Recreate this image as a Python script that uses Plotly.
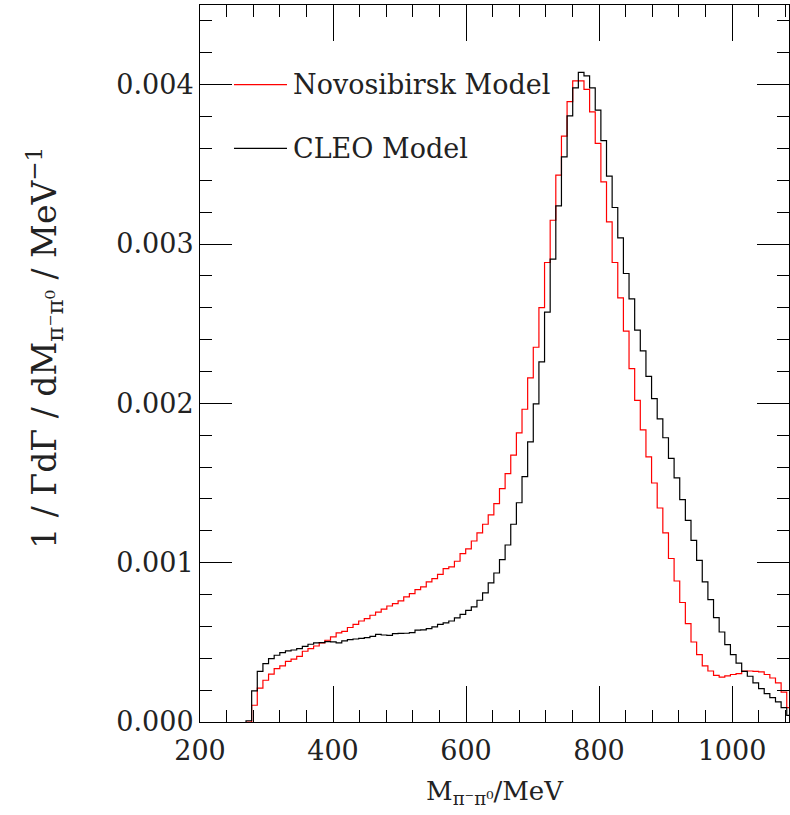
import plotly.graph_objects as go

# Histogram binning (MeV)
BIN_LOW = 269.2
BIN_WIDTH = 8.47

novosibirsk = [
    0.0, 0.000105, 0.000213, 0.000262, 0.0003, 0.000335, 0.000352, 0.000381, 0.000394, 0.000412,
    0.000444, 0.000461, 0.000477, 0.000496, 0.000513, 0.000534, 0.000559, 0.000569, 0.000593, 0.000613,
    0.000634, 0.000649, 0.00067, 0.00069, 0.000709, 0.000728, 0.000743, 0.00076, 0.000785, 0.000806,
    0.000831, 0.000848, 0.000879, 0.0009, 0.000927, 0.000963, 0.000973, 0.001009, 0.001057, 0.001086,
    0.001136, 0.001187, 0.001241, 0.0013, 0.001371, 0.001465, 0.001559, 0.001675, 0.001814, 0.001963,
    0.00216, 0.002352, 0.002601, 0.002884, 0.003149, 0.003432, 0.003677, 0.003894, 0.004024, 0.004024,
    0.00397, 0.003829, 0.003632, 0.00339, 0.003139, 0.002884, 0.002662, 0.002453, 0.002218, 0.002019,
    0.001833, 0.001664, 0.0015, 0.001343, 0.001187, 0.001026, 0.000885, 0.00075, 0.000618, 0.000502,
    0.000423, 0.000352, 0.00032, 0.000293, 0.000282, 0.000289, 0.000298, 0.000304, 0.00032, 0.00032,
    0.000318, 0.000314, 0.000298, 0.000276, 0.000245, 0.000188, 0.00009,
]

cleo = [
    0.000008, 0.000195, 0.000318, 0.000366, 0.000398, 0.000419, 0.000436, 0.000446, 0.000452, 0.000461,
    0.000475, 0.000488, 0.000496, 0.000498, 0.000505, 0.000503, 0.000496, 0.000509, 0.000517, 0.000521,
    0.000525, 0.00053, 0.000538, 0.00055, 0.000546, 0.000544, 0.000555, 0.000556, 0.000557, 0.000561,
    0.000576, 0.000578, 0.000586, 0.000597, 0.000613, 0.000622, 0.000634, 0.000653, 0.000676, 0.000701,
    0.000722, 0.000764, 0.00081, 0.000873, 0.000935, 0.001019, 0.001111, 0.001241, 0.001376, 0.00154,
    0.001758, 0.001996, 0.00226, 0.002572, 0.002905, 0.003239, 0.003547, 0.003804, 0.00398, 0.004077,
    0.004055, 0.00398, 0.00384, 0.003649, 0.003426, 0.003229, 0.003038, 0.002815, 0.002655, 0.002459,
    0.002329, 0.002169, 0.00203, 0.001902, 0.001784, 0.001655, 0.001532, 0.001396, 0.001266, 0.00114,
    0.001015, 0.000879, 0.000768, 0.000655, 0.000565, 0.000486, 0.000423, 0.00037, 0.000318, 0.000287,
    0.000245, 0.00021, 0.000178, 0.000153, 0.000126, 0.00009, 0.000042,
]

series_names = ["Novosibirsk Model", "CLEO Model"]
series_colors = ["#ff0000", "#000000"]
x_tick_vals = [200, 400, 600, 800, 1000]
y_tick_vals = [0.000, 0.001, 0.002, 0.003, 0.004]

FONT = "DejaVu Serif"


def step_xy(vals):
    n = len(vals)
    edges = [BIN_LOW + BIN_WIDTH * i for i in range(n + 1)]
    xs = [edges[0]] + edges
    ys = [0.0] + list(vals) + [vals[-1]]
    return xs, ys


fig = go.Figure()
for vals, col in zip([novosibirsk, cleo], series_colors):
    xs, ys = step_xy(vals)
    fig.add_trace(go.Scatter(x=xs, y=ys, mode="lines", line=dict(color=col, width=1.2, shape="hv"),
                             showlegend=False, hoverinfo="skip"))

# legend drawn manually
legend_y = [0.0040, 0.0036]
for name, col, yv in zip(series_names, series_colors, legend_y):
    fig.add_shape(type="line", xref="paper", yref="y", x0=0.0577, x1=0.1477, y0=yv, y1=yv,
                  line=dict(color=col, width=1.2))
    fig.add_annotation(xref="paper", yref="y", x=0.155, y=yv, text=name, showarrow=False,
                       xanchor="left", yanchor="middle", font=dict(family=FONT, size=27, color="#222"))

axis_common = dict(
    showline=True, linecolor="black", linewidth=1, mirror="allticks",
    ticks="inside", tickcolor="black", tickwidth=1,
    showgrid=False, zeroline=False, automargin=False,
    tickfont=dict(family=FONT, size=27, color="#222"),
)

fig.update_xaxes(range=[200, 1085.7], tickvals=x_tick_vals, ticklen=36,
                 minor=dict(dtick=40, tick0=200, ticks="inside", ticklen=12, tickcolor="black", showgrid=False),
                 ticklabelstandoff=5,
                 **axis_common)
fig.update_yaxes(range=[0, 0.0045], tickvals=y_tick_vals, tickformat=".3f", ticklen=32,
                 minor=dict(dtick=0.0002, tick0=0, ticks="inside", ticklen=12, tickcolor="black", showgrid=False),
                 ticklabelstandoff=0,
                 **axis_common)

# axis titles as annotations for exact placement
fig.add_annotation(xref="paper", yref="paper", x=0.5, y=-0.072, yanchor="top", xanchor="center",
                   text="M<sub>π⁻π⁰</sub>/MeV", showarrow=False,
                   font=dict(family=FONT, size=26, color="#222"))
fig.add_annotation(xref="paper", yref="paper", x=-0.263, y=0.522, xanchor="center", yanchor="middle",
                   text="1 / ΓdΓ / dM<sub>π⁻π⁰</sub> / MeV<sup>−1</sup>", showarrow=False, textangle=-90,
                   font=dict(family=FONT, size=33, color="#222"))

fig.update_layout(
    width=790, height=815,
    margin=dict(l=200, r=1, t=5, b=93),
    paper_bgcolor="white", plot_bgcolor="white",
    showlegend=False,
)

fig.write_html("out.html", config={"displayModeBar": False},
               post_script="document.body.style.margin='0';document.body.style.overflow='hidden';")
